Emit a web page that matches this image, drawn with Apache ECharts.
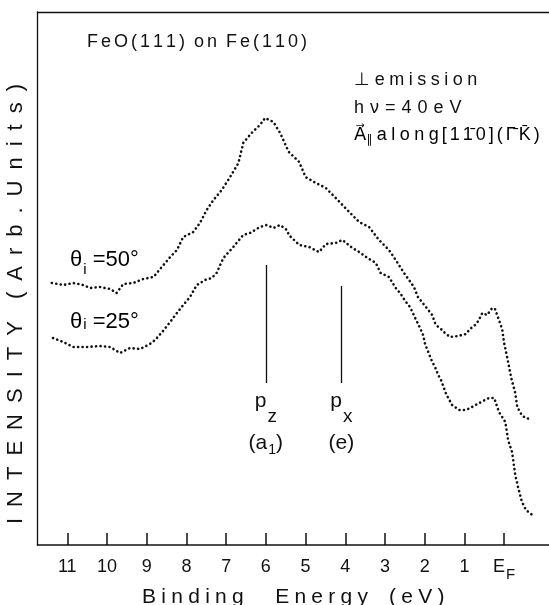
<!DOCTYPE html>
<html>
<head>
<meta charset="UTF-8">
<title>FeO(111) on Fe(110)</title>
<script src="https://cdn.jsdelivr.net/npm/echarts@6/dist/echarts.min.js"></script>
<style>
  html, body { margin: 0; padding: 0; background: #fff; }
  #chart { width: 549px; height: 605px; }
</style>
</head>
<body>
<div id="chart"></div>
<script>
// binding energy (eV) and intensity (arb. units)
const energy50 = [11.39, 11.10, 10.85, 10.60, 10.43, 10.18, 9.92, 9.76, 9.59, 9.34,
  9.09, 8.83, 8.62, 8.41, 8.24, 8.08, 7.83, 7.66, 7.49, 7.32,
  7.11, 6.90, 6.69, 6.57, 6.36, 6.15, 6.02, 5.81, 5.64, 5.47,
  5.42, 5.16, 5.00, 4.74, 4.49, 4.24, 3.95, 3.65, 3.40, 3.15,
  2.90, 2.73, 2.52, 2.27, 2.17, 2.07, 1.99, 1.81, 1.74, 1.66,
  1.56, 1.49, 1.36, 1.16, 0.96, 0.86, 0.73, 0.65, 0.55, 0.43,
  0.30, 0.23, 0.05, 0.00, -0.08, -0.18, -0.28, -0.33, -0.43, -0.53, -0.65];
const intensity50 = [26.2, 26.0, 26.2, 26.0, 25.7, 25.8, 25.6, 25.2, 26.1, 26.2,
  26.6, 26.8, 27.8, 28.8, 29.5, 30.8, 31.3, 32.2, 33.5, 34.5,
  35.5, 36.8, 38.2, 40.2, 41.2, 42.0, 42.7, 42.3, 41.2, 39.7,
  39.3, 38.3, 36.8, 36.2, 35.7, 34.7, 33.5, 32.3, 31.8, 30.5,
  29.5, 28.5, 27.2, 25.8, 24.8, 24.3, 23.9, 23.0, 22.2, 21.8,
  21.5, 21.2, 20.8, 20.9, 21.1, 21.6, 22.0, 22.4, 23.2, 23.0,
  23.7, 23.6, 21.6, 20.2, 18.7, 16.7, 15.2, 13.8, 13.1, 12.7, 12.6];

const energy25 = [11.36, 11.10, 10.85, 10.51, 10.18, 9.92, 9.67, 9.42, 9.17, 8.92,
  8.79, 8.59, 8.41, 8.24, 8.08, 7.91, 7.74, 7.53, 7.36, 7.24,
  7.07, 6.82, 6.57, 6.40, 6.15, 5.98, 5.81, 5.64, 5.47, 5.42,
  5.16, 4.91, 4.66, 4.49, 4.24, 4.07, 3.82, 3.65, 3.44, 3.23,
  3.11, 2.90, 2.73, 2.62, 2.49, 2.37, 2.24, 2.14, 2.04, 1.99,
  1.91, 1.81, 1.74, 1.66, 1.59, 1.46, 1.31, 1.13, 0.96, 0.81,
  0.58, 0.38, 0.25, 0.13, -0.03, -0.10, -0.20, -0.28, -0.35, -0.45, -0.55, -0.71];
const intensity25 = [20.7, 20.3, 19.8, 19.8, 19.9, 19.8, 19.2, 19.7, 19.6, 20.1,
  20.5, 21.4, 22.3, 23.2, 24.0, 24.8, 26.0, 26.5, 26.7, 27.2,
  28.7, 29.8, 31.0, 31.2, 31.8, 32.0, 31.7, 32.0, 31.5, 31.0,
  30.0, 29.8, 29.3, 30.1, 30.2, 30.5, 29.7, 29.3, 28.7, 28.2,
  27.2, 26.8, 25.7, 25.2, 24.4, 23.8, 22.7, 21.9, 21.0, 20.1,
  19.3, 18.3, 17.8, 17.0, 16.5, 15.1, 14.0, 13.5, 13.5, 13.8,
  14.3, 14.7, 14.7, 13.3, 12.3, 10.5, 9.3, 7.0, 5.8, 4.3, 3.5, 3.0];

const tickValues = [0, 1, 2, 3, 4, 5, 6, 7, 8, 9, 10, 11];

// p_z (a1) and p_x (e) markers
const peakEnergy = [6.0, 4.1];
const peakTop = [28.0, 25.9];
const peakBottom = [16.2, 16.2];
const peakLabels = ['{p|p}{ps|z}\n{q|(a}{qs|1}{q|)}', '{p|p}{ps|x}\n{q|(e)}'];

const FONT = 'Liberation Sans, DejaVu Sans, sans-serif';

// the original lettering is widely spaced
function spread(s, gap) {
  return s.split('').join(gap);
}

const chart = echarts.init(document.getElementById('chart'));

const pairs = (xs, ys) => xs.map((x, i) => [x, ys[i]]);

const dotted = {
  color: '#111',
  width: 2.6,
  type: [0.1, 4.4],
  cap: 'round'
};

const xName = spread('Binding', '\u2005') + '\u2002\u2002\u2002' +
  spread('Energy', '\u2005') + '\u2002\u2002' + spread('(eV)', '\u2005');
const yName = spread('INTENSITY', '\u2002') + '\u2002\u2002' +
  spread('(Arb.', '\u2002') + '\u2002' + spread('Units)', '\u2002');

const sp = '\u2005';
const sp2 = '\u2006';
const alongLine = '{a|A\u20D7}{s|\u2225}{a|' + sp + spread('along', sp) + sp2 +
  '[' + sp2 + '1' + sp2 + '1\u0304' + sp2 + '0' + sp2 + ']' + sp2 + '(' + sp2 + '\u0393\u0304' + sp2 + 'K\u0304' + sp2 + ')}';

chart.setOption({
  animation: false,
  backgroundColor: '#fff',
  grid: { left: 37.5, right: 0, top: 12, bottom: 60, containLabel: false, outerBoundsMode: 'none' },
  xAxis: [{
    type: 'value',
    inverse: true,
    min: -1.13,
    max: 11.75,
    name: xName,
    nameLocation: 'middle',
    nameGap: 40,
    nameTextStyle: { fontFamily: FONT, fontSize: 21, color: '#111' },
    axisLine: { onZero: false, lineStyle: { color: '#111', width: 1.6 } },
    axisTick: { inside: true, length: 12, customValues: tickValues, lineStyle: { color: '#111', width: 1.5 } },
    axisLabel: {
      customValues: tickValues,
      margin: 13,
      fontFamily: FONT,
      fontSize: 18,
      color: '#111',
      formatter: v => v === 0 ? '{e|E}{f|F}' : String(v),
      rich: {
        e: { fontFamily: FONT, fontSize: 18, color: '#111', verticalAlign: 'top' },
        f: { fontFamily: FONT, fontSize: 15, color: '#111', verticalAlign: 'top', padding: [9, 0, 0, 1] }
      }
    },
    splitLine: { show: false }
  }, {
    type: 'value',
    position: 'top',
    inverse: true,
    min: -1.13,
    max: 11.75,
    axisLine: { onZero: false, lineStyle: { color: '#111', width: 1.3 } },
    axisTick: { show: false },
    axisLabel: { show: false },
    splitLine: { show: false }
  }],
  yAxis: {
    type: 'value',
    min: 0,
    max: 53.3,
    axisLine: { show: true, onZero: false, lineStyle: { color: '#111', width: 1.3 } },
    axisTick: { show: false },
    axisLabel: { show: false },
    splitLine: { show: false }
  },
  series: [{
    name: 'θi=50°',
    type: 'line',
    showSymbol: false,
    data: pairs(energy50, intensity50),
    lineStyle: dotted,
    markLine: {
      silent: true,
      symbol: 'none',
      lineStyle: { color: '#111', width: 1.3, type: 'solid' },
      label: {
        show: true,
        position: 'end',
        distance: 8,
        color: '#111',
        fontFamily: FONT,
        rich: {
          p: { fontFamily: FONT, fontSize: 21, color: '#111', verticalAlign: 'top' },
          ps: { fontFamily: FONT, fontSize: 19, color: '#111', verticalAlign: 'top', padding: [16, 0, 0, 1] },
          q: { fontFamily: FONT, fontSize: 21, color: '#111', verticalAlign: 'top', padding: [7, 0, 0, 0] },
          qs: { fontFamily: FONT, fontSize: 14, color: '#111', verticalAlign: 'top', padding: [17, 0, 0, 1] }
        }
      },
      data: peakEnergy.map((e, i) => [
        { coord: [e, peakTop[i]] },
        { coord: [e, peakBottom[i]], label: { formatter: peakLabels[i] } }
      ])
    }
  }, {
    name: 'θi=25°',
    type: 'line',
    showSymbol: false,
    data: pairs(energy25, intensity25),
    lineStyle: dotted
  }],
  graphic: [
    {
      type: 'text', left: 87, top: 33,
      style: { text: spread('FeO(111)', '\u2006') + '\u2002' + spread('on', '\u2006') + '\u2002' + spread('Fe(110)', '\u2006'),
        font: '18px ' + FONT, fill: '#111' }
    },
    {
      type: 'text', left: 354, top: 71,
      style: { text: '⊥ ' + spread('emission', '\u2005'), font: '18px ' + FONT, fill: '#111' }
    },
    {
      type: 'text', left: 354, top: 99,
      style: { text: spread('hν=40', '\u2004') + '\u2004' + spread('eV', '\u2004'), font: '18px ' + FONT, fill: '#111' }
    },
    {
      type: 'text', left: 354, top: 126,
      style: {
        text: alongLine,
        rich: {
          a: { fontFamily: FONT, fontSize: 18, color: '#111', verticalAlign: 'top' },
          s: { fontFamily: FONT, fontSize: 12, color: '#111', verticalAlign: 'top', padding: [8, 0, 0, 0] }
        }
      }
    },
    {
      type: 'text', left: 70, top: 249,
      style: {
        text: '{a|θ}{s|i}{a| =50°}',
        rich: {
          a: { fontFamily: FONT, fontSize: 22, color: '#111', verticalAlign: 'top' },
          s: { fontFamily: FONT, fontSize: 15, color: '#111', verticalAlign: 'top', padding: [13, 0, 0, 1] }
        }
      }
    },
    {
      type: 'text', left: 70, top: 311,
      style: {
        text: '{a|θ}{s|i}{a| =25°}',
        rich: {
          a: { fontFamily: FONT, fontSize: 22, color: '#111', verticalAlign: 'top' },
          s: { fontFamily: FONT, fontSize: 15, color: '#111', verticalAlign: 'top', padding: [6, 0, 0, 1] }
        }
      }
    },
    {
      type: 'text', x: 16, y: 304, rotation: Math.PI / 2,
      style: { text: yName, font: '22px ' + FONT, fill: '#111', align: 'center', verticalAlign: 'middle' }
    }
  ]
});
</script>
</body>
</html>
